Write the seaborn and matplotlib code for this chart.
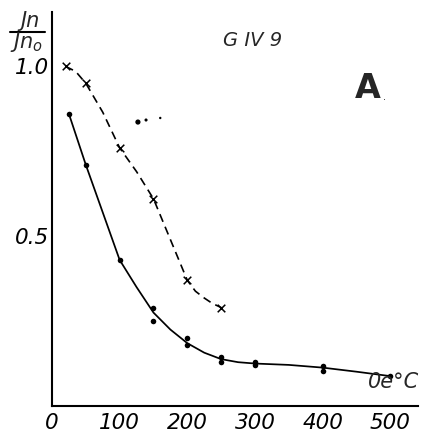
import matplotlib
matplotlib.use("Agg")
import matplotlib.pyplot as plt
import seaborn as sns
import pandas as pd

# ---- data ----
# solid series: measured points
solid_x = [25, 50, 100, 150, 150, 200, 200, 250, 250, 300, 300, 400, 400, 500]
solid_y = [0.86, 0.71, 0.43, 0.29, 0.25, 0.20, 0.18, 0.144, 0.129, 0.13, 0.12, 0.117, 0.103, 0.088]
# solid series: hand-drawn curve
solid_curve_x = [25, 50, 75, 100, 125, 150, 175, 200, 225, 250, 275, 300, 350, 400, 450, 500]
solid_curve_y = [0.86, 0.71, 0.57, 0.43, 0.35, 0.275, 0.225, 0.185, 0.157, 0.138, 0.129, 0.125, 0.121, 0.113, 0.101, 0.088]

# dashed series: measured points (crosses)
dashed_x = [20, 50, 100, 150, 200, 250]
dashed_y = [1.0, 0.95, 0.76, 0.61, 0.37, 0.29]
# dashed series: hand-drawn curve
dashed_curve_x = [20, 35, 50, 75, 100, 125, 150, 175, 200, 212, 225, 237, 250]
dashed_curve_y = [1.0, 0.985, 0.95, 0.865, 0.76, 0.69, 0.61, 0.49, 0.37, 0.338, 0.318, 0.302, 0.29]

# stray specks on the scan
speck_x = [127, 139, 160]
speck_y = [0.836, 0.842, 0.848]

x_ticks = [0, 100, 200, 300, 400, 500]
x_tick_labels = ["0", "100", "200", "300", "400", "500"]
y_ticks = [0.5, 1.0]
y_tick_labels = ["0.5", "1.0"]

solid_pts = pd.DataFrame({"x": solid_x, "y": solid_y})
solid_curve = pd.DataFrame({"x": solid_curve_x, "y": solid_curve_y})
dashed_pts = pd.DataFrame({"x": dashed_x, "y": dashed_y})
dashed_curve = pd.DataFrame({"x": dashed_curve_x, "y": dashed_curve_y})
specks = pd.DataFrame({"x": speck_x, "y": speck_y})

sns.set_style("white")
plt.rcParams["font.family"] = ["DejaVu Sans"]
plt.rcParams["mathtext.fontset"] = "dejavusans"

fig = plt.figure(figsize=(4.29, 4.33), dpi=100)
W, H = 429, 433
ax_left, ax_right, ax_top, ax_bottom = 52, 418, 12, 406
ax = fig.add_axes([ax_left / W, 1 - ax_bottom / H, (ax_right - ax_left) / W, (ax_bottom - ax_top) / H])

sns.lineplot(data=solid_curve, x="x", y="y", ax=ax, color="black", lw=1.25, sort=False)
sns.lineplot(data=dashed_curve, x="x", y="y", ax=ax, color="black", lw=1.2, sort=False,
             linestyle=(0, (5, 3.2)))
sns.scatterplot(data=solid_pts, x="x", y="y", ax=ax, color="black", s=16, marker="o",
                edgecolor="black", linewidth=0, zorder=5)
sns.scatterplot(data=dashed_pts, x="x", y="y", ax=ax, color="black", s=30, marker="x",
                linewidth=1.1, zorder=5)
sns.scatterplot(data=specks, x="x", y="y", ax=ax, color="black", s=[14, 5, 3], marker="o",
                linewidth=0, zorder=5, legend=False)

ax.set_xlim(0, 541)
ax.set_ylim(0, 1.16)
ax.set_xlabel("")
ax.set_ylabel("")

for s in ["top", "right"]:
    ax.spines[s].set_visible(False)
for s in ["left", "bottom"]:
    ax.spines[s].set_color("black")
    ax.spines[s].set_linewidth(1.5)

ax.set_xticks(x_ticks)
ax.set_xticklabels(x_tick_labels)
ax.set_yticks(y_ticks)
ax.set_yticklabels(y_tick_labels)
ax.tick_params(axis="both", direction="in", length=6, width=1.3, colors="black",
               labelsize=15.5)
ax.tick_params(axis="x", pad=5)
ax.tick_params(axis="y", pad=2)
for lab in ax.get_xticklabels() + ax.get_yticklabels():
    lab.set_fontstyle("italic")

# y label as a fraction
fig.text(30 / W, 1 - 21 / H, "Jn", fontsize=15, style="italic", ha="center", va="center")
fig.add_artist(plt.Line2D([10 / W, 45 / W], [1 - 32 / H, 1 - 32 / H], color="black", lw=1.5))
fig.text(27 / W, 1 - 42 / H, r"$Jn_o$", fontsize=15, ha="center", va="center")

fig.text(253 / W, 1 - 40 / H, "G IV 9", fontsize=14, style="italic", ha="center", va="center")
fig.text(368 / W, 1 - 89 / H, "A", fontsize=24, weight="bold", ha="center", va="center")
fig.text(384 / W, 1 - 97 / H, ".", fontsize=7, ha="center", va="center")
fig.text(419 / W, 1 - 382 / H, "0e°C", fontsize=15, style="italic", ha="right", va="center")

fig.savefig("out.png", dpi=100)
